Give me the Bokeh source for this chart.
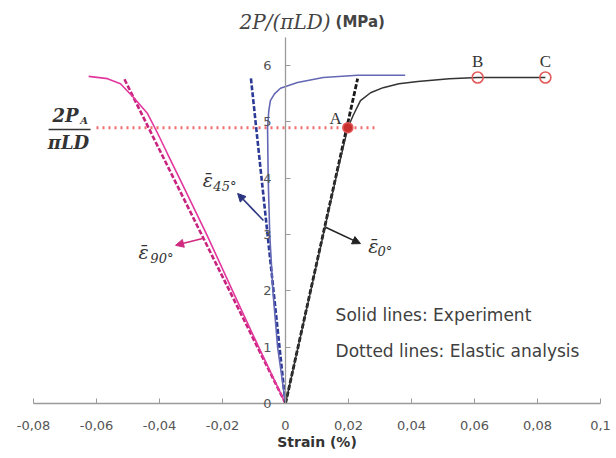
from bokeh.plotting import figure
from bokeh.models import Range1d, LinearAxis, FixedTicker, Arrow, NormalHead
from bokeh.core.properties import value
from bokeh.embed import file_html
from bokeh.resources import INLINE

# ---- data ----
x_ticks = [-0.08, -0.06, -0.04, -0.02, 0, 0.02, 0.04, 0.06, 0.08, 0.1]
x_tick_labels = ["-0,08", "-0,06", "-0,04", "-0,02", "0", "0,02", "0,04", "0,06", "0,08", "0,1"]
y_ticks = [0, 1, 2, 3, 4, 5, 6]
y_tick_labels = ["0", "1", "2", "3", "4", "5", "6"]

exp_0_strain = [0, 0.004, 0.008, 0.012, 0.016, 0.0198, 0.0215, 0.0238, 0.027, 0.031, 0.036, 0.042, 0.052, 0.061, 0.0825]
exp_0_load = [0, 1, 2, 3, 4, 4.9, 5.12, 5.38, 5.52, 5.61, 5.68, 5.72, 5.77, 5.79, 5.79]
ela_0_strain = [0, 0.0229]
ela_0_load = [0, 5.77]

exp_45_strain = [0, -0.0025, -0.004, -0.005, -0.0055, -0.0057, -0.0053, -0.0048, -0.0035, -0.0016, 0.0038, 0.012, 0.0229, 0.038]
exp_45_load = [0, 1, 2, 3, 4, 4.9, 5.2, 5.38, 5.5, 5.6, 5.7, 5.79, 5.83, 5.83]
ela_45_strain = [0, -0.011]
ela_45_load = [0, 5.79]

exp_90_strain = [0, -0.0085, -0.0168, -0.025, -0.0333, -0.0375, -0.0406, -0.0438, -0.0483, -0.0524, -0.0565, -0.0625]
exp_90_load = [0, 1, 2, 3, 3.96, 4.44, 4.80, 5.15, 5.44, 5.68, 5.77, 5.81]
ela_90_strain = [0, -0.0514]
ela_90_load = [0, 5.79]

pa_level = 4.9
pa_extent = [-0.06, 0.0295]
point_names = ["A", "B", "C"]
point_strain = [0.0198, 0.061, 0.0825]
point_load = [4.9, 5.79, 5.79]

# ---- figure ----
p = figure(width=616, height=458, x_range=Range1d(-0.09048, 0.10508), y_range=Range1d(-0.977, 7.158),
           output_backend="svg", toolbar_location=None, x_axis_location=None, y_axis_location=None,
           min_border_left=0, min_border_right=0, min_border_top=0, min_border_bottom=0)
p.outline_line_color = None
p.grid.visible = False
p.background_fill_color = "white"

xaxis = LinearAxis(fixed_location=0, bounds=(-0.08, 0.1), ticker=FixedTicker(ticks=x_ticks),
                   axis_label="Strain (%)")
xaxis.major_label_overrides = {t: l for t, l in zip(x_ticks, x_tick_labels)}
yaxis = LinearAxis(fixed_location=0, bounds=(0, 6.5), ticker=FixedTicker(ticks=y_ticks))
yaxis.major_label_overrides = {t: l for t, l in zip(y_ticks, y_tick_labels)}
for ax in (xaxis, yaxis):
    ax.axis_line_color = "#9a9a9a"
    ax.axis_line_width = 1.3
    ax.major_tick_line_color = "#9a9a9a"
    ax.major_tick_in = 5
    ax.major_tick_out = 0
    ax.minor_tick_line_color = None
    ax.major_label_text_font = "DejaVu Sans"
    ax.major_label_text_font_size = "13px"
    ax.major_label_text_color = "#555555"
xaxis.major_label_standoff = 18
yaxis.major_label_standoff = 14
xaxis.axis_label_text_font = "DejaVu Sans"
xaxis.axis_label_text_font_style = "bold"
xaxis.axis_label_text_font_size = "14px"
xaxis.axis_label_text_color = "#333333"
xaxis.axis_label_standoff = 0
p.add_layout(xaxis, "below")
p.add_layout(yaxis, "left")

# red horizontal dotted line
p.line(pa_extent, [pa_level, pa_level], line_color="#f26d6d", line_width=3, line_dash="dotted")

# magenta (90)
p.line(ela_90_strain, ela_90_load, line_color="#c8237e", line_width=2.6, line_dash="5 2")
p.line(exp_90_strain, exp_90_load, line_color="#e2389e", line_width=1.6)
# blue (45)
p.line(ela_45_strain, ela_45_load, line_color="#2b3a96", line_width=2.6, line_dash="5 2")
p.line(exp_45_strain, exp_45_load, line_color="#6468b4", line_width=1.6)
# black (0)
p.line(ela_0_strain, ela_0_load, line_color="#1a1a1a", line_width=2.8, line_dash="5 2")
p.line(exp_0_strain, exp_0_load, line_color="#333333", line_width=1.5)

# points
p.scatter(point_strain[:1], point_load[:1], size=10, fill_color="#c8302e", line_color="#e35a5a", line_width=1.5)
p.scatter(point_strain[1:], point_load[1:], size=11, fill_color=None, line_color="#e35a5a", line_width=1.6)
p.text([0.0159, 0.061, 0.0825], [5.07, 6.07, 6.07], text=point_names, text_font=value("Liberation Serif"),
       text_font_size="17px", text_color="#333333", text_align="center", text_baseline="middle")

# arrows
p.add_layout(Arrow(x_start=-0.007, y_start=3.25, x_end=-0.0152, y_end=3.73, line_color="#2b3580",
                   line_width=1.6, end=NormalHead(size=8, fill_color="#2b3580", line_color="#2b3580")))
p.add_layout(Arrow(x_start=-0.0263, y_start=2.93, x_end=-0.0349, y_end=2.81, line_color="#d02a80",
                   line_width=1.6, end=NormalHead(size=8, fill_color="#d02a80", line_color="#d02a80")))
p.add_layout(Arrow(x_start=0.0127, y_start=3.13, x_end=0.0238, y_end=2.84, line_color="#222222",
                   line_width=1.6, end=NormalHead(size=8, fill_color="#222222", line_color="#222222")))

# strain labels
eps = "\u03b5\u0304"
p.text([-0.0263, -0.0467, 0.0263], [3.97, 2.69, 2.80], text=[eps, eps, eps],
       text_font=value("DejaVu Serif"), text_font_style="italic", text_font_size="19px",
       text_color="#333333", text_baseline="middle")
p.text([-0.0229, -0.0429, 0.0292], [3.85, 2.57, 2.70], text=["45°", "90°", "0°"],
       text_font=value("DejaVu Serif"), text_font_style="italic", text_font_size="13px",
       text_color="#333333", text_baseline="middle")

# fraction label 2P_A / (pi L D)
p.text([-0.074], [5.12], text=["2P"], text_font=value("DejaVu Serif"), text_font_style="bold italic",
       text_font_size="18px", text_color="#333333", text_baseline="middle")
p.text([-0.0652], [5.02], text=["A"], text_font=value("DejaVu Serif"), text_font_style="bold italic",
       text_font_size="10px", text_color="#333333", text_baseline="middle")
p.segment(x0=[-0.0752], y0=[4.867], x1=[-0.0619], y1=[4.867], line_color="#333333", line_width=1.6)
p.text([-0.0689], [4.63], text=["\u03c0LD"], text_font=value("DejaVu Serif"), text_font_style="bold italic",
       text_font_size="18px", text_color="#333333", text_align="center", text_baseline="middle")

# y-axis title
p.text([0.0143], [6.77], text=["2P/(\u03c0LD)"], text_font=value("DejaVu Serif"), text_font_style="italic",
       text_font_size="20px", text_color="#444444", text_align="right", text_baseline="middle")
p.text([0.0159], [6.77], text=["(MPa)"], text_font=value("DejaVu Sans"), text_font_style="bold",
       text_font_size="15px", text_color="#444444", text_align="left", text_baseline="middle")

# note texts
p.text([0.0159, 0.0159], [1.563, 0.94], text=["Solid lines: Experiment", "Dotted lines: Elastic analysis"],
       text_font=value("DejaVu Sans"), text_font_size="17px", text_color="#404040",
       text_baseline="middle")

open("out.html", "w").write(file_html(p, INLINE))
